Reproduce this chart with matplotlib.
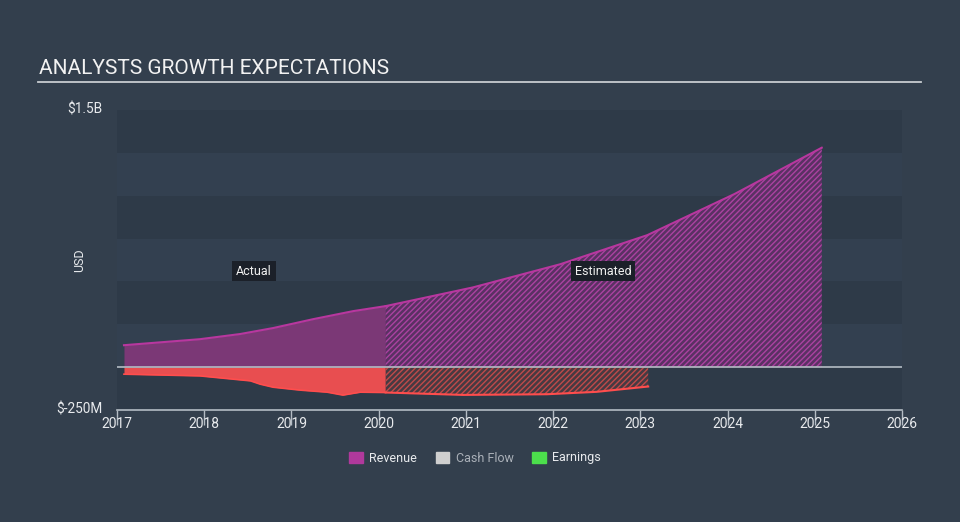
import matplotlib.pyplot as plt
import matplotlib.patches as mpatches
import numpy as np

plt.rcParams['font.family'] = ['Roboto', 'DejaVu Sans']
plt.rcParams['hatch.linewidth'] = 1.0

# revenue, in $M
rev_act_x = [2017.08, 2017.95, 2018.41, 2018.79, 2019.25, 2019.71, 2020.08]
rev_act_y = [128, 163, 193, 228, 280, 327, 356]
rev_est_x = [2020.08, 2021.08, 2022.08, 2023.08, 2024.08, 2025.08]
rev_est_y = [356, 465, 600, 770, 1010, 1280]

# cash flow, in $M
cf_act_x = [2017.08, 2017.95, 2018.33, 2018.53, 2018.64, 2018.79, 2019.10, 2019.41, 2019.59, 2019.79, 2020.08]
cf_act_y = [-41, -51, -70, -80, -99, -117, -134, -146, -163, -146, -148]
cf_est_x = [2020.08, 2020.97, 2021.93, 2022.50, 2023.09]
cf_est_y = [-148, -162, -158, -144, -113]

year_ticks = list(range(2017, 2027))
y_ticks = [-250, 1500]
y_tick_labels = ["$-250M", "$1.5B"]

BG = '#333f4d'
REV_LINE = '#b8379f'
REV_FILL = '#7b3876'
CF_LINE = '#ff4d4d'
CF_FILL = '#e84e50'
GRID = '#b4bcc4'

fig = plt.figure(figsize=(9.6, 5.22), dpi=100)
fig.patch.set_facecolor(BG)
ax = fig.add_axes([117 / 960, 1 - 410 / 522, 785 / 960, 300 / 522])
ax.set_facecolor(BG)
ax.set_xlim(2017, 2026)
ax.set_ylim(-250, 1500)

# alternating bands
for i, lo in enumerate(np.arange(-250, 1500, 250)):
    c = '#2e3a48' if i % 2 == 0 else '#334050'
    ax.axhspan(lo, lo + 250, color=c, lw=0, zorder=0)

# revenue
ax.fill_between(rev_act_x, 0, rev_act_y, color=REV_FILL, lw=0, zorder=2)
ax.plot(rev_act_x, rev_act_y, color=REV_LINE, lw=1.5, zorder=3)
ax.fill_between(rev_est_x, 0, rev_est_y, facecolor='#5a3163', edgecolor='#ab42a1',
                hatch='//////', lw=0, zorder=2)
ax.plot(rev_est_x, rev_est_y, color=REV_LINE, lw=1.5, zorder=3)

# cash flow
ax.fill_between(cf_act_x, 0, cf_act_y, color=CF_FILL, lw=0, zorder=2)
ax.plot(cf_act_x, cf_act_y, color=CF_LINE, lw=1.2, zorder=3)
ax.fill_between(cf_est_x, 0, cf_est_y, facecolor='#463a42', edgecolor='#c04a4a',
                hatch='//////', lw=0, zorder=2)
ax.plot(cf_est_x, cf_est_y, color=CF_LINE, lw=1.5, zorder=3)

ax.axhline(0, color=GRID, lw=1.2, zorder=4)

for s in ['top', 'right', 'left']:
    ax.spines[s].set_visible(False)
ax.spines['bottom'].set_color(GRID)
ax.spines['bottom'].set_linewidth(1.2)
ax.set_xticks(year_ticks)
ax.set_xticklabels([str(y) for y in year_ticks])
ax.tick_params(axis='x', colors=GRID, length=11, width=1, labelcolor='#e8eaed',
               labelsize=10, pad=-6, direction='out')
ax.set_yticks([])
for v, lab in zip(y_ticks, y_tick_labels):
    ax.text(-0.018, (v + 250) / 1750 + 0.003, lab, transform=ax.transAxes, ha='right',
            va='center', color='#e8eaed', fontsize=9.8)
fig.text(80 / 960, 1 - 260 / 522, 'USD', rotation=90, ha='center', va='center',
         color='#e8eaed', fontsize=9)

box = dict(boxstyle='square,pad=0.3', fc='#1b2029', ec='none')
ax.text(2018.57, 560, 'Actual', color='#f0f0f0', fontsize=9, ha='center',
        va='center', bbox=box, zorder=5)
ax.text(2022.57, 560, 'Estimated', color='#f0f0f0', fontsize=9, ha='center',
        va='center', bbox=box, zorder=5)

# title and underline
fig.text(39 / 960, 1 - 69 / 522, 'ANALYSTS GROWTH EXPECTATIONS', color='#f2f2f2',
         fontsize=15, ha='left', va='center')
fig.add_artist(plt.Line2D([38 / 960, 921 / 960], [1 - 81.5 / 522, 1 - 81.5 / 522],
                          color='#c8ccd0', lw=1.3))

handles = [mpatches.Patch(color='#b0399c', label='Revenue'),
           mpatches.Patch(color='#cfcfcf', label='Cash Flow'),
           mpatches.Patch(color='#4cdf4c', label='Earnings')]
leg = fig.legend(handles=handles, loc='center', bbox_to_anchor=(475 / 960, 1 - 458 / 522),
                 ncol=3, frameon=False, fontsize=9, handlelength=1.1, handleheight=1.0,
                 columnspacing=1.5, handletextpad=0.5)
for t, c in zip(leg.get_texts(), ['#e8eaed', '#aab0b8', '#e8eaed']):
    t.set_color(c)

fig.savefig('out.png', dpi=100, facecolor=BG)
